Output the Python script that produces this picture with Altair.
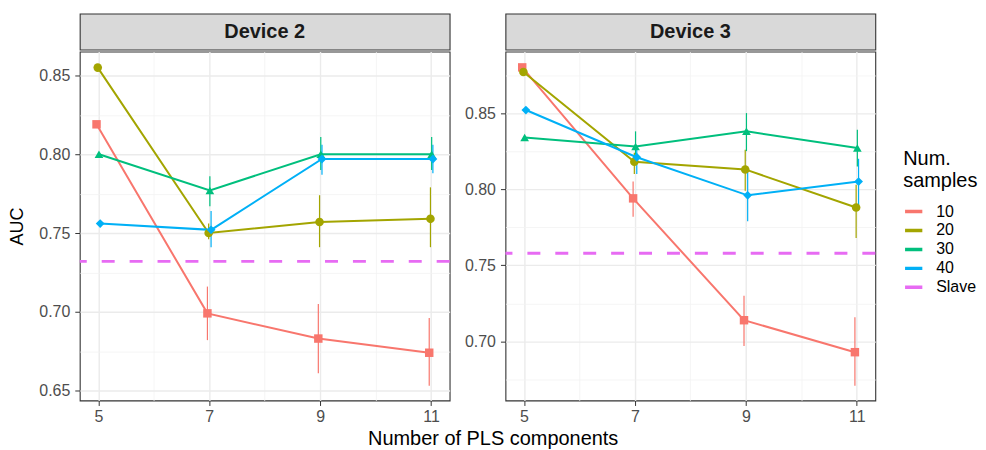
import altair as alt
import pandas as pd

components = [5, 7, 9, 11]
groups = ["10", "20", "30", "40"]
devices = ["Device 2", "Device 3"]

# AUC means, lower and upper error bar ends, per device and number of samples
auc_d2_10 = [0.819, 0.699, 0.683, 0.674]
auc_d2_20 = [0.855, 0.750, 0.757, 0.759]
auc_d2_30 = [0.800, 0.777, 0.800, 0.800]
auc_d2_40 = [0.756, 0.752, 0.797, 0.797]
lo_d2_10 = [0.819, 0.682, 0.661, 0.653]
lo_d2_20 = [0.855, 0.746, 0.741, 0.741]
lo_d2_30 = [0.800, 0.767, 0.790, 0.790]
lo_d2_40 = [0.756, 0.741, 0.787, 0.788]
hi_d2_10 = [0.819, 0.716, 0.705, 0.696]
hi_d2_20 = [0.855, 0.756, 0.774, 0.779]
hi_d2_30 = [0.800, 0.786, 0.811, 0.811]
hi_d2_40 = [0.756, 0.764, 0.806, 0.806]

auc_d3_10 = [0.880, 0.794, 0.714, 0.693]
auc_d3_20 = [0.877, 0.818, 0.813, 0.788]
auc_d3_30 = [0.834, 0.828, 0.838, 0.827]
auc_d3_40 = [0.852, 0.821, 0.796, 0.805]
lo_d3_10 = [0.880, 0.782, 0.697, 0.671]
lo_d3_20 = [0.877, 0.810, 0.799, 0.768]
lo_d3_30 = [0.834, 0.820, 0.825, 0.815]
lo_d3_40 = [0.852, 0.810, 0.779, 0.789]
hi_d3_10 = [0.880, 0.805, 0.730, 0.716]
hi_d3_20 = [0.877, 0.824, 0.826, 0.803]
hi_d3_30 = [0.834, 0.838, 0.850, 0.839]
hi_d3_40 = [0.852, 0.827, 0.813, 0.820]

slave_auc = [0.732, 0.758]

y_domains = [[0.6437, 0.8652], [0.6613, 0.8904]]
y_ticks = [[0.65, 0.675, 0.70, 0.725, 0.75, 0.775, 0.80, 0.825, 0.85],
           [0.675, 0.70, 0.725, 0.75, 0.775, 0.80, 0.825, 0.85, 0.875]]
x_ticks = [5, 6, 7, 8, 9, 10, 11]

colors = ["#F8766D", "#A3A500", "#00BF7D", "#00B0F6", "#E76BF3"]
shapes = ["square", "circle", "triangle-up", "diamond"]
sizes = [72, 78, 90, 50]

dev_data = {
    "Device 2": ([auc_d2_10, auc_d2_20, auc_d2_30, auc_d2_40],
                 [lo_d2_10, lo_d2_20, lo_d2_30, lo_d2_40],
                 [hi_d2_10, hi_d2_20, hi_d2_30, hi_d2_40]),
    "Device 3": ([auc_d3_10, auc_d3_20, auc_d3_30, auc_d3_40],
                 [lo_d3_10, lo_d3_20, lo_d3_30, lo_d3_40],
                 [hi_d3_10, hi_d3_20, hi_d3_30, hi_d3_40]),
}

FONT = "Liberation Sans"
PW, PH = 371, 350

color_scale = alt.Scale(domain=groups + ["Slave"], range=colors)
fill_scale = alt.Scale(domain=groups, range=colors[:4])
legend = alt.Legend(title=["Num.", "samples"], symbolType="stroke", symbolDash=[1, 0])

panels = []
for i, dev in enumerate(devices):
    aucs, los, his = dev_data[dev]
    rows = []
    for g, a, lo, hi in zip(groups, aucs, los, his):
        for c, av, lv, hv in zip(components, a, lo, hi):
            rows.append({"comp": c, "group": g, "auc": av, "lo": lv, "hi": hv})
    df = pd.DataFrame(rows)
    sdf = pd.DataFrame({"group": ["Slave"], "auc": [slave_auc[i]]})

    xs = alt.Scale(domain=[4.665, 11.335], nice=False, zero=False)
    ys = alt.Scale(domain=y_domains[i], nice=False, zero=False)
    xaxis = alt.Axis(values=x_ticks, title=None, domain=False,
                     labelExpr="datum.value % 2 == 1 ? datum.label : ''",
                     labelFontSize=16, labelColor="#4D4D4D", labelPadding=3,
                     labelFlush=False, labelOverlap=False,
                     tickColor="#333333", tickSize=5,
                     tickOpacity={"condition": {"test": "datum.value % 2 == 1", "value": 1}, "value": 0},
                     gridColor={"condition": {"test": "datum.value % 2 == 1", "value": "#EBEBEB"}, "value": "#F3F3F3"},
                     gridWidth={"condition": {"test": "datum.value % 2 == 1", "value": 1.4}, "value": 0.8})
    ytest = "round(datum.value * 1000) % 50 == 0"
    yaxis = alt.Axis(values=y_ticks[i], title="AUC" if i == 0 else None, domain=False,
                     labelExpr=f"{ytest} ? format(datum.value, '.2f') : ''",
                     labelFontSize=16, labelColor="#4D4D4D", labelPadding=5,
                     labelFlush=False, labelOverlap=False,
                     titleFontSize=18, titleFontWeight="normal", titleColor="black", titlePadding=12,
                     tickColor="#333333", tickSize=5,
                     tickOpacity={"condition": {"test": ytest, "value": 1}, "value": 0},
                     gridColor={"condition": {"test": ytest, "value": "#EBEBEB"}, "value": "#F3F3F3"},
                     gridWidth={"condition": {"test": ytest, "value": 1.4}, "value": 0.8})

    base = alt.Chart(df).transform_calculate(
        xd="datum.comp + (indexof(['10','20','30','40'], datum.group) - 1.5) * 0.022"
    )
    X = alt.X("xd:Q", scale=xs, axis=xaxis)
    err = base.mark_rule(strokeWidth=1.2).encode(
        x=X, y=alt.Y("lo:Q", scale=ys, axis=yaxis), y2="hi:Q",
        color=alt.Color("group:N", scale=color_scale, legend=legend))
    line = base.mark_line(strokeWidth=2).encode(
        x=X, y=alt.Y("auc:Q", scale=ys, axis=yaxis),
        color=alt.Color("group:N", scale=color_scale, legend=legend))
    pts = base.mark_point(filled=True, opacity=1, strokeWidth=0).encode(
        x=X, y=alt.Y("auc:Q", scale=ys, axis=yaxis),
        fill=alt.Fill("group:N", scale=fill_scale, legend=None),
        shape=alt.Shape("group:N", scale=alt.Scale(domain=groups, range=shapes), legend=None),
        size=alt.Size("group:N", scale=alt.Scale(domain=groups, range=sizes), legend=None))
    slave = alt.Chart(sdf).mark_rule(strokeDash=[13, 15], strokeWidth=3).encode(
        y=alt.Y("auc:Q", scale=ys, axis=yaxis),
        color=alt.Color("group:N", scale=color_scale, legend=legend))
    main = alt.layer(err, line, pts, slave).properties(width=PW, height=PH)

    strip = alt.Chart(pd.DataFrame({"device": [dev]})).mark_text(
        fontSize=20, fontWeight="bold", color="#1A1A1A", font=FONT, baseline="middle", align="center"
    ).encode(text="device:N", x=alt.value(PW / 2), y=alt.value(18)).properties(
        width=PW, height=36,
        view=alt.ViewBackground(fill="#D9D9D9", stroke="#333333", strokeWidth=1.1))
    panels.append(alt.vconcat(strip, main, spacing=0))

chart = alt.hconcat(*panels, spacing=11).resolve_scale(
    x="independent", y="independent", color="shared"
).properties(
    title=alt.TitleParams("Number of PLS components", orient="bottom", anchor="middle",
                          fontSize=20, fontWeight="normal", color="black", font=FONT, offset=4),
    padding={"left": 0, "top": 4, "right": 0, "bottom": 0},
    background="white",
).configure(font=FONT).configure_view(
    stroke="#333333", strokeWidth=1.1
).configure_legend(
    titleFontSize=20, titleFontWeight="normal", titleColor="black", titleFont=FONT,
    labelFontSize=16, labelColor="black", labelFont=FONT, titlePadding=10,
    symbolStrokeWidth=3.5, symbolSize=300, labelOffset=12, rowPadding=0,
    orient="none", legendX=826, legendY=136,
)

chart.save("out.html", embed_options={"renderer": "svg", "actions": False})
